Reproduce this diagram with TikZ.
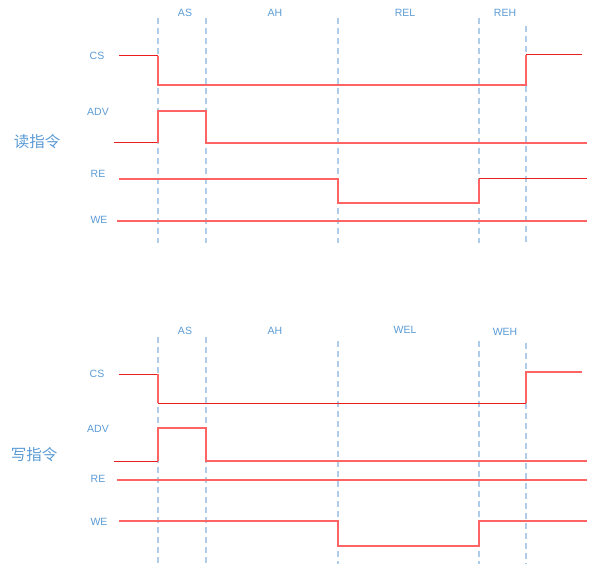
\documentclass[tikz,border=0pt]{standalone}
\usepackage{fontspec}
\setmainfont{Liberation Sans}
\newfontfamily\cjk{Noto Sans CJK SC}
\definecolor{sig}{RGB}{255,100,100}
\definecolor{sigdark}{RGB}{235,30,30}
\definecolor{lab}{RGB}{91,155,213}
\definecolor{guide}{RGB}{175,205,232}
\begin{document}
\begin{tikzpicture}[x=1pt,y=-1pt,
  wave/.style={draw=sig,line width=1.4pt,line join=miter},
  thinwave/.style={draw=sigdark,line width=1pt},
  guideline/.style={draw=guide,line width=1.3pt,dash pattern=on 6pt off 4pt},
  siglabel/.style={text=lab,font=\fontsize{10.5}{12}\selectfont,inner sep=0pt},
  title/.style={text=lab,font=\cjk\fontsize{15.5}{17}\selectfont,inner sep=0pt}]
\useasboundingbox (0,0) rectangle (591,564);
% ---------- top: read ----------
\foreach \x/\t in {158/18,206/18,338/18,479/18,526/26}{
  \draw[guideline] (\x,\t) -- (\x,243);}
\node[siglabel] (as1) at (185,13) {AS};
\node[siglabel] (ah1) at (275,13) {AH};
\node[siglabel] (rel) at (405,13) {REL};
\node[siglabel] (reh) at (505,13) {REH};
\node[siglabel] (cs1) at (97,56) {CS};
\node[siglabel] (adv1) at (98,112) {ADV};
\node[siglabel] (re1) at (98,174) {RE};
\node[siglabel] (we1) at (99,220) {WE};
\node[title] (rd) at (37,142) {读指令};
\draw[thinwave] (119,56) -- (158,56);
\draw[wave] (158,56) -- (158,85) -- (526,85) -- (526,55);
\draw[thinwave] (526,55) -- (582,55);
\draw[thinwave] (114,143) -- (158,143);
\draw[wave] (158,143) -- (158,111) -- (206,111) -- (206,143) -- (587,143);
\draw[wave] (119,179) -- (338,179) -- (338,203) -- (479,203) -- (479,179);
\draw[thinwave] (479,179) -- (587,179);
\draw[wave] (117,221) -- (587,221);
% ---------- bottom: write ----------
\foreach \x/\t in {158/337,206/337,338/341,479/341,526/343}{
  \draw[guideline] (\x,\t) -- (\x,564);}
\node[siglabel] (as2) at (185,331) {AS};
\node[siglabel] (ah2) at (275,331) {AH};
\node[siglabel] (wel) at (405,330) {WEL};
\node[siglabel] (weh) at (505,332) {WEH};
\node[siglabel] (cs2) at (97,374) {CS};
\node[siglabel] (adv2) at (98,429) {ADV};
\node[siglabel] (re2) at (98,479) {RE};
\node[siglabel] (we2) at (99,522) {WE};
\node[title] (wr) at (34,455) {写指令};
\draw[thinwave] (119,374) -- (158,374);
\draw[wave] (158,374) -- (158,403);
\draw[thinwave] (158,403) -- (526,403);
\draw[wave] (526,403) -- (526,372) -- (582,372);
\draw[thinwave] (114,461) -- (158,461);
\draw[wave] (158,461) -- (158,428) -- (206,428) -- (206,461) -- (587,461);
\draw[wave] (117,480) -- (587,480);
\draw[wave] (119,521) -- (338,521) -- (338,546) -- (479,546) -- (479,521) -- (587,521);
\end{tikzpicture}
\end{document}
